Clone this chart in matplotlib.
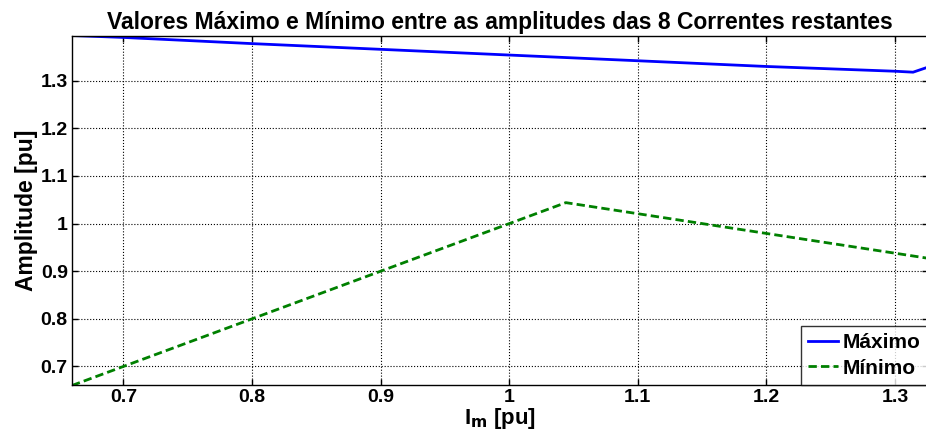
import matplotlib
matplotlib.use("Agg")
import matplotlib.pyplot as plt

plt.rcParams['font.family'] = ['Liberation Sans', 'DejaVu Sans']
plt.rcParams['font.weight'] = 'bold'

x_max = [0.66, 0.70, 0.80, 0.90, 1.00, 1.10, 1.20, 1.30, 1.314, 1.326]
y_max = [1.395, 1.391, 1.378, 1.366, 1.354, 1.342, 1.330, 1.320, 1.318, 1.329]
x_min = [0.66, 1.044, 1.326]
y_min = [0.66, 1.044, 0.927]

xticks = [0.7, 0.8, 0.9, 1.0, 1.1, 1.2, 1.3]
xticklabels = ['0.7', '0.8', '0.9', '1', '1.1', '1.2', '1.3']
yticks = [0.7, 0.8, 0.9, 1.0, 1.1, 1.2, 1.3]
yticklabels = ['0.7', '0.8', '0.9', '1', '1.1', '1.2', '1.3']

fig = plt.figure(figsize=(9.26, 4.41), dpi=100)
ax = fig.add_axes([72/926, 1-385/441, (928-72)/926, (385-36)/441])

ax.plot(x_max, y_max, color='#0000ff', lw=2, label='Máximo')
ax.plot(x_min, y_min, color='#008000', lw=2, ls=(0, (3, 1.5)), label='Mínimo')

ax.set_xlim(0.66, 1.3256)
ax.set_ylim(0.661, 1.394)
ax.set_xticks(xticks)
ax.set_xticklabels(xticklabels)
ax.set_yticks(yticks)
ax.set_yticklabels(yticklabels)
ax.tick_params(direction='in', labelsize=14, length=4, width=1, top=True, right=True, pad=3)
for lab in ax.get_xticklabels() + ax.get_yticklabels():
    lab.set_fontweight('bold')
ax.grid(True, color='black', ls=':', lw=0.8)
for s in ax.spines.values():
    s.set_linewidth(1)

ax.set_title('Valores Máximo e Mínimo entre as amplitudes das 8 Correntes restantes',
             fontsize=16.5, fontweight='bold', pad=5)
ax.set_xlabel('I$_\\mathbf{m}$ [pu]', fontsize=16, fontweight='bold', labelpad=0)
ax.set_ylabel('Amplitude [pu]', fontsize=16.5, fontweight='bold', labelpad=2)

leg = ax.legend(loc='lower right', fontsize=15, frameon=True, fancybox=False,
                edgecolor='black', borderaxespad=0, handlelength=1.4, handletextpad=0.25,
                borderpad=0.35, labelspacing=0.3)
leg.get_frame().set_linewidth(1)
for t in leg.get_texts():
    t.set_fontweight('bold')

fig.savefig('out.png', dpi=100)
